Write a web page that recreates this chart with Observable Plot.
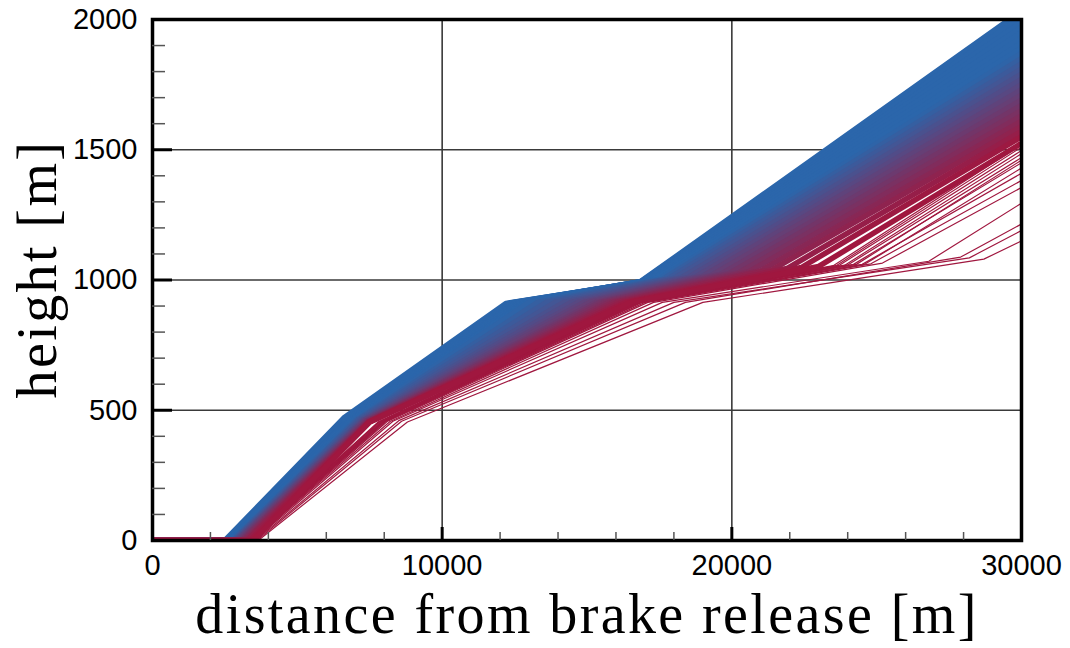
<!DOCTYPE html>
<html><head><meta charset="utf-8">
<script src="https://cdn.jsdelivr.net/npm/d3@7"></script>
<script src="https://cdn.jsdelivr.net/npm/@observablehq/plot@0.6"></script>
<style>
html,body{margin:0;padding:0;background:#fff;}
</style></head><body><div id="chart"></div>
<script>
// ---- axis definitions ----
const xTitle = "distance from brake release [m]";
const yTitle = "height [m]";
const xLabelTicks = [0, 10000, 20000, 30000];
const yLabelTicks = [0, 500, 1000, 1500, 2000];
const xMajorTicks = [0, 10000, 20000];
const yMajorTicks = [0, 500, 1000, 1500];
const xMinorTicks = [2000, 4000, 6000, 8000, 12000, 14000, 16000, 18000, 22000, 24000, 26000, 28000];
const yMinorTicks = [100, 200, 300, 400, 600, 700, 800, 900, 1100, 1200, 1300, 1400, 1600, 1700, 1800, 1900];
const xGridLines = [10000, 20000];
const yGridLines = [500, 1000, 1500];

// ---- dense band of trajectories (top / blue first, bottom / red last) ----
const denseTakeoff = [2500, 2530, 2560, 2590, 2620, 2650, 2680, 2710, 2740, 2770, 2800, 2830, 2860, 2890, 2920, 2950, 2990, 3030, 3070, 3110, 3150, 3200, 3250, 3300, 3380, 3480];
const denseK1x = [6600, 6650, 6700, 6750, 6800, 6850, 6900, 6950, 7000, 7050, 7100, 7150, 7200, 7250, 7280, 7310, 7340, 7370, 7400, 7420, 7440, 7460, 7470, 7480, 7490, 7500];
const denseK1y = [470, 469, 468, 467, 466, 465, 465, 464, 463, 462, 462, 461, 461, 460, 460, 459, 459, 458, 458, 457, 457, 456, 456, 455, 455, 455];
const denseK2x = [12200, 12300, 12400, 12500, 12600, 12700, 12800, 12900, 13000, 13300, 13600, 13900, 14200, 14450, 14700, 14900, 15100, 15300, 15450, 15600, 15750, 15900, 16050, 16200, 16350, 16500];
const denseK2y = [910, 911, 912, 912, 913, 913, 913, 914, 914, 914, 914, 914, 914, 914, 914, 914, 914, 914, 914, 914, 914, 914, 914, 914, 914, 914];
const denseK3x = [16800, 16850, 16900, 16950, 17000, 17100, 17200, 17300, 17450, 17600, 17800, 18000, 18250, 18500, 18750, 19000, 19300, 19600, 19900, 20250, 20600, 21000, 21400, 21900, 22400, 23000];
const denseK3y = [990, 992, 993, 995, 996, 998, 999, 1000, 1001, 1002, 1004, 1006, 1008, 1010, 1012, 1015, 1018, 1021, 1024, 1028, 1032, 1036, 1040, 1044, 1048, 1052];
const denseEnd = [2033, 2010, 1990, 1970, 1950, 1930, 1910, 1890, 1870, 1850, 1830, 1810, 1790, 1770, 1750, 1730, 1710, 1690, 1670, 1650, 1630, 1610, 1590, 1570, 1550, 1525];

// ---- separated (outlier) trajectories, thin red lines ----
const outTakeoff = [3650, 3600, 3550, 3500, 3450, 3450, 3400, 3400, 3350, 3350, 3300, 3420, 3380, 3360, 3320];
const outK1x = [8800, 8600, 8500, 8300, 8200, 8100, 8000, 7950, 7900, 7850, 7800, 8050, 7980, 7920, 7830];
const outK1y = [455, 458, 460, 458, 457, 457, 456, 456, 456, 456, 456, 457, 456, 456, 456];
const outK2x = [19000, 18400, 18000, 17600, 17300, 17100, 16900, 16800, 16700, 16650, 16600, 17000, 16850, 16750, 16620];
const outK2y = [914, 914, 914, 914, 914, 914, 914, 914, 914, 914, 914, 914, 914, 914, 914];
const outK3x = [28700, 27900, 28200, 26800, 25200, 24800, 24500, 24200, 24000, 23700, 23500, 24600, 24300, 23900, 23600];
const outK3y = [1080, 1088, 1085, 1072, 1065, 1062, 1060, 1060, 1058, 1056, 1055, 1061, 1060, 1057, 1055];
const outEnd = [1150, 1215, 1190, 1295, 1355, 1382, 1410, 1450, 1470, 1497, 1520, 1430, 1460, 1485, 1510];

const xEnd = xLabelTicks[xLabelTicks.length - 1];

function buildRows(prefix, T, K1x, K1y, K2x, K2y, K3x, K3y, E) {
  const rows = [];
  for (let i = 0; i < T.length; i++) {
    const pts = [[0, 0], [T[i], 0], [K1x[i], K1y[i]], [K2x[i], K2y[i]], [K3x[i], K3y[i]], [xEnd, E[i]]];
    for (const [dist, height] of pts) rows.push({id: prefix + i, dist, height, end: E[i]});
  }
  return rows;
}
const outRows = buildRows("o", outTakeoff, outK1x, outK1y, outK2x, outK2y, outK3x, outK3y, outEnd);
const denseRows = buildRows("d", denseTakeoff, denseK1x, denseK1y, denseK2x, denseK2y, denseK3x, denseK3y, denseEnd);

const chart = Plot.plot({
  width: 1070, height: 648,
  marginLeft: 152, marginRight: 49, marginTop: 19, marginBottom: 108,
  x: {domain: [0, 30000], label: null},
  y: {domain: [0, 2000], label: null},
  color: {type: "linear", domain: [1540, 1880], range: ["#a0173f", "#2b66ab"], interpolate: "rgb", clamp: true},
  style: {fontFamily: "'Liberation Sans', Arial, sans-serif", fontSize: "29px", color: "#000", background: "#fff"},
  marks: [
    Plot.gridX(xGridLines, {stroke: "#3a3a3a", strokeOpacity: 1, strokeWidth: 1.6}),
    Plot.gridY(yGridLines, {stroke: "#3a3a3a", strokeOpacity: 1, strokeWidth: 1.6}),
    Plot.line(outRows, {x: "dist", y: "height", z: "id", stroke: "end", strokeWidth: 1.2, clip: true}),
    Plot.line(denseRows, {x: "dist", y: "height", z: "id", stroke: "end", strokeWidth: 5.5, strokeLinejoin: "round", clip: true}),
    Plot.frame({stroke: "#000", strokeWidth: 3.5}),
    Plot.axisX(xMinorTicks, {tickSize: -8, tickFormat: () => "", stroke: "#555", strokeWidth: 1.5}),
    Plot.axisX(xMajorTicks, {tickSize: -13, tickFormat: () => "", stroke: "#000", strokeWidth: 3}),
    Plot.axisX(xLabelTicks, {tickSize: 0, tickPadding: 14, tickFormat: "d", fontSize: 29}),
    Plot.axisY(yMinorTicks, {tickSize: -13, tickFormat: () => "", stroke: "#555", strokeWidth: 1.5}),
    Plot.axisY(yMajorTicks, {tickSize: -20, tickFormat: () => "", stroke: "#000", strokeWidth: 3}),
    Plot.axisY(yLabelTicks, {tickSize: 0, tickPadding: 15, tickFormat: "d", fontSize: 29}),
    Plot.text([xTitle], {text: d => d, frameAnchor: "bottom", dy: 92, lineAnchor: "bottom", textAnchor: "middle", fontFamily: "'Liberation Serif', serif", fontSize: 56, fill: "#000"}),
    Plot.text([yTitle], {text: d => d, frameAnchor: "left", rotate: -90, dx: -97, dy: -11, lineAnchor: "bottom", textAnchor: "middle", fontFamily: "'Liberation Serif', serif", fontSize: 56, fill: "#000"})
  ]
});
document.getElementById("chart").appendChild(chart);
d3.select(chart).selectAll("text")
  .filter(function() { return this.textContent === xTitle || this.textContent === yTitle; })
  .style("letter-spacing", "2.4px");
</script></body></html>
